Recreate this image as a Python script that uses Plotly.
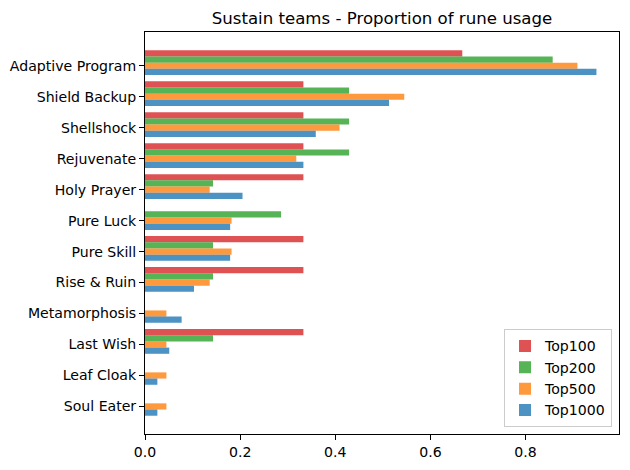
import plotly.graph_objects as go

categories = ["Adaptive Program", "Shield Backup", "Shellshock", "Rejuvenate", "Holy Prayer",
              "Pure Luck", "Pure Skill", "Rise & Ruin", "Metamorphosis", "Last Wish",
              "Leaf Cloak", "Soul Eater"]
top100 = [0.667, 0.333, 0.333, 0.333, 0.333, 0.0, 0.333, 0.333, 0.0, 0.333, 0.0, 0.0]
top200 = [0.857, 0.429, 0.429, 0.429, 0.143, 0.286, 0.143, 0.143, 0.0, 0.143, 0.0, 0.0]
top500 = [0.909, 0.545, 0.409, 0.318, 0.136, 0.182, 0.182, 0.136, 0.045, 0.045, 0.045, 0.045]
top1000 = [0.949, 0.513, 0.359, 0.333, 0.205, 0.179, 0.179, 0.103, 0.077, 0.051, 0.026, 0.026]
series_names = ["Top100", "Top200", "Top500", "Top1000"]
xticks = [0.0, 0.2, 0.4, 0.6, 0.8]

series = [top100, top200, top500, top1000]
colors = ["rgba(214,39,40,0.8)", "rgba(44,160,44,0.8)", "rgba(255,127,14,0.8)", "rgba(31,119,180,0.8)"]
pos = list(range(len(categories)))
font = "DejaVu Sans"
fs = 14.1

fig = go.Figure()
for i, (name, vals, c) in enumerate(zip(series_names, series, colors)):
    fig.add_trace(go.Bar(
        x=vals, y=pos, orientation="h", name=name,
        marker=dict(color=c, line=dict(width=0)),
        width=0.2, offset=-0.5 + 0.2 * i,
    ))

xmax = max(max(s) for s in series) * 1.05
fig.update_layout(
    width=630, height=470,
    margin=dict(l=145, r=10, t=32, b=34),
    paper_bgcolor="white", plot_bgcolor="white",
    barmode="overlay",
    font=dict(family=font, size=fs, color="black"),
    title=dict(text="Sustain teams - Proportion of rune usage", x=382 / 630, xanchor="center",
               y=1 - 18 / 470, yanchor="middle", font=dict(size=16.6, family=font, color="black")),
    xaxis=dict(range=[0, xmax], tickvals=xticks, ticktext=[f"{v:.1f}" for v in xticks],
               showgrid=False, zeroline=False, showline=True, linecolor="black", linewidth=1,
               mirror=True, ticks="outside", ticklen=5, tickcolor="black", tickfont=dict(size=fs)),
    yaxis=dict(range=[11.89, -1.09], tickvals=pos, ticktext=categories,
               showgrid=False, zeroline=False, showline=True, linecolor="black", linewidth=1,
               mirror=True, ticks="outside", ticklen=5, tickcolor="black", tickfont=dict(size=fs)),
    legend=dict(x=(613 - 145) / (620 - 145), y=(435.7 - 429) / (435.7 - 32),
                xanchor="right", yanchor="bottom",
                bordercolor="#cccccc", borderwidth=1, bgcolor="rgba(255,255,255,0.8)",
                font=dict(size=fs), traceorder="normal"),
    showlegend=True,
)
fig.write_html("out.html")
